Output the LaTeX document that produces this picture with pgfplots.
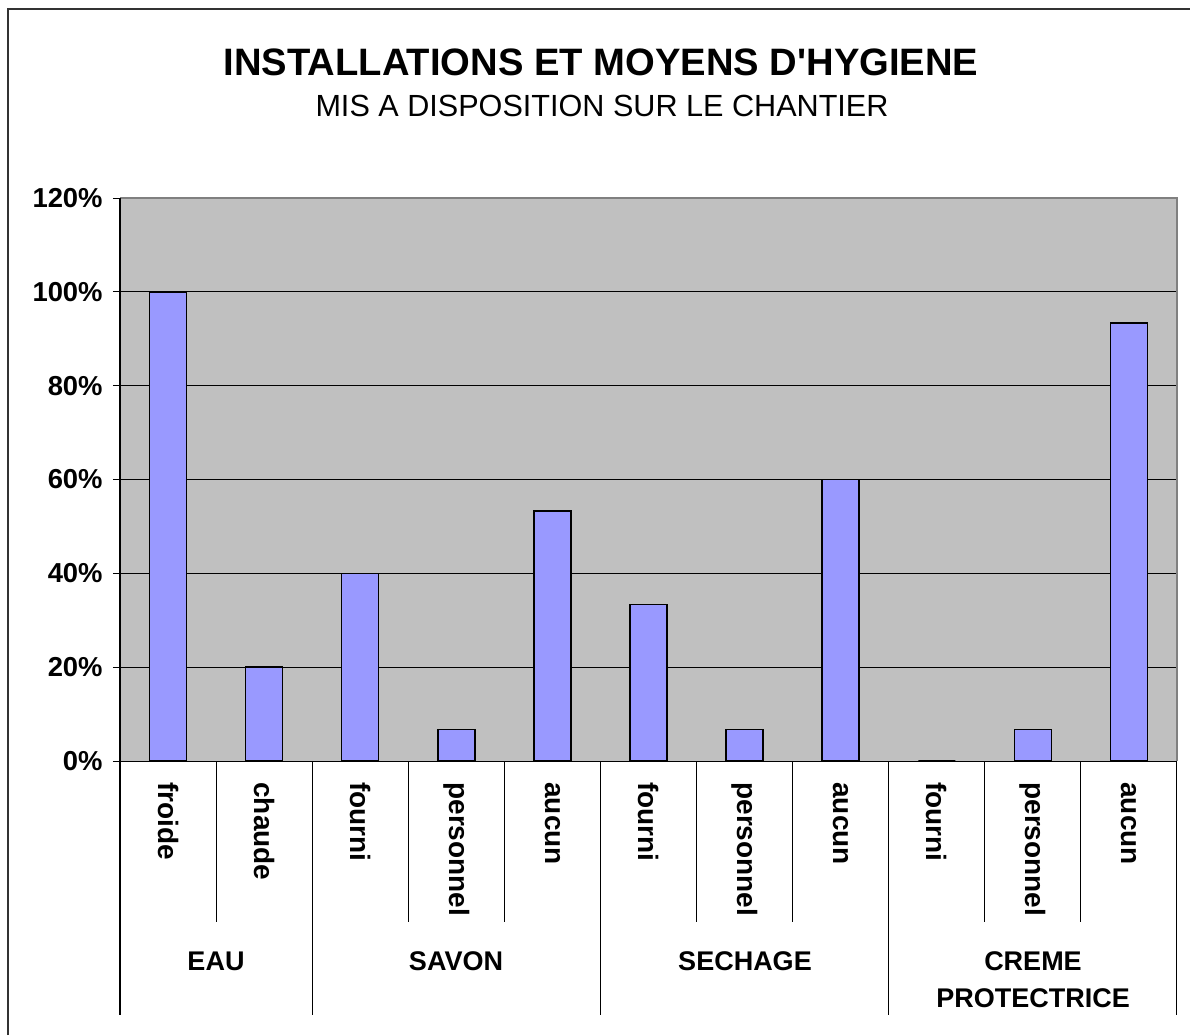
\documentclass[border=0pt]{standalone}
\usepackage{pgfplots}
\pgfplotsset{compat=1.18}
\usepackage{fontspec}
\setmainfont{Liberation Sans}
\newfontfamily\plainfont{Liberation Sans}
\definecolor{plotgray}{HTML}{C0C0C0}
\definecolor{barblue}{HTML}{9999FF}
\definecolor{bordergray}{HTML}{808080}
\begin{document}
\begin{tikzpicture}[x=0.5pt,y=-0.5pt]
\useasboundingbox (0,0) rectangle (1190,1035);
% outer frame (left and top)
\draw[line width=1.2pt, draw=black!80] (8,1035) -- (8,9) -- (1190,9);
% titles
\node[anchor=base, font=\plainfont\fontsize{19.1}{22}\selectfont\bfseries] at (601,75) {INSTALLATIONS ET MOYENS D'HYGIENE};
\node[anchor=base, font=\fontsize{15.3}{18}\selectfont] at (602,116) {MIS A DISPOSITION SUR LE CHANTIER};
\begin{axis}[
  at={(60pt,-380.5pt)}, anchor=south west,
  scale only axis, width=528.5pt, height=281.5pt,
  xmin=-0.5, xmax=10.5, ymin=0, ymax=120,
  axis background/.style={fill=plotgray},
  axis line style={draw=none},
  xtick=\empty,
  ytick={0,20,...,120},
  yticklabel={\pgfmathprintnumber{\tick}\%},
  /pgf/number format/assume math mode=true,
  yticklabel style={font=\fontsize{13.7}{16}\selectfont\bfseries, anchor=east, inner sep=0pt, xshift=-5pt},
  ytick pos=left, tick align=outside, major tick length=3.5pt,
  tick style={black, line width=0.5pt},
  ymajorgrids, grid style={black, line width=0.5pt},
  ybar, bar width=18.5pt,
]
\addplot[fill=barblue, draw=black, line width=0.7pt] coordinates {
  (0,100) (1,20) (2,40) (3,6.67) (4,53.33) (5,33.33) (6,6.67) (7,60) (8,0) (9,6.67) (10,93.33)};
\end{axis}
% axis frame
\draw[bordergray, line width=0.8pt] (120,198) -- (1177,198) -- (1177,761);
\draw[black, line width=0.6pt] (120,198) -- (120,1015);
\draw[black, line width=0.6pt] (113,761.5) -- (1177,761.5);
% category separators
\foreach \k in {1,3,4,6,7,9,10} {
  \draw[black, line width=0.5pt] ({120+96.09*\k},761.5) -- ({120+96.09*\k},922);
}
\foreach \k in {2,5,8,11} {
  \draw[black, line width=0.5pt] ({120+96.09*\k},761.5) -- ({120+96.09*\k},1015);
}
% category labels
\foreach \lab [count=\i from 0] in {froide,chaude,fourni,personnel,aucun,fourni,personnel,aucun,fourni,personnel,aucun} {
  \node[rotate=-90, anchor=west, inner sep=0pt, font=\fontsize{14}{16}\selectfont\bfseries] at ({120+96.09*(\i+0.5)},782) {\lab};
}
% group labels
\begin{scope}[every node/.style={anchor=base, font=\fontsize{13.5}{16}\selectfont\bfseries}]
\node at (216,970) {EAU};
\node at (456,970) {SAVON};
\node at (745,970) {SECHAGE};
\node at (1033,970) {CREME};
\node at (1033,1007) {PROTECTRICE};
\end{scope}
\end{tikzpicture}
\end{document}
